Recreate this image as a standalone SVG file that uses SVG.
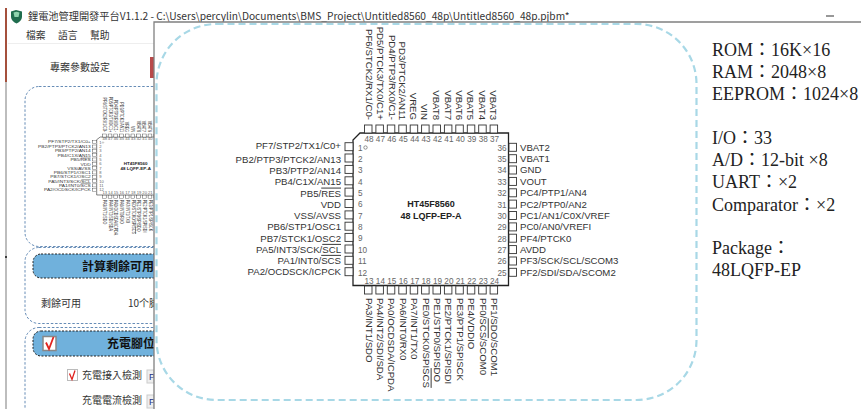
<svg xmlns="http://www.w3.org/2000/svg" xmlns:xlink="http://www.w3.org/1999/xlink" width="861" height="409" viewBox="0 0 861 409">
<style>
text{font-family:"Liberation Sans","Noto Sans CJK TC",sans-serif}
.ui{font-family:"Noto Sans CJK TC","Noto Sans CJK SC",sans-serif;fill:#333}
.ban{font-family:"Noto Sans CJK TC",sans-serif;font-weight:700;font-size:12px;fill:#111}
.lab{font-size:9.650px;fill:#333}
.l{text-anchor:end}
.num{font-size:8.200px;fill:#666}
.pin{fill:#fff;stroke:#333;stroke-width:.9}
.spec{font-family:"Liberation Serif","Noto Sans CJK TC",serif;font-size:18px;fill:#222}
.sec{fill:none;stroke:#3f6ea3;stroke-width:.8;stroke-dasharray:2.5 1.8}
.banner{fill:#70b1dc;stroke:#222;stroke-width:1;stroke-dasharray:2 1.5}
.ov{text-decoration:overline}
</style>
<defs>
<g id="chip">
<path d="M360 133H508.500V285.500H353V140Z" fill="#fff" stroke="#222" stroke-width="1.300"/>
<circle cx="365.500" cy="147.500" r="1.700" fill="none" stroke="#666" stroke-width=".7"/>
<g id="pins-left">
<rect class="pin" x="345" y="142.700" width="8" height="8"/><rect class="pin" x="345" y="154" width="8" height="8"/><rect class="pin" x="345" y="165.400" width="8" height="8"/><rect class="pin" x="345" y="176.800" width="8" height="8"/><rect class="pin" x="345" y="188.100" width="8" height="8"/><rect class="pin" x="345" y="199.500" width="8" height="8"/><rect class="pin" x="345" y="210.900" width="8" height="8"/><rect class="pin" x="345" y="222.200" width="8" height="8"/><rect class="pin" x="345" y="233.400" width="8" height="8"/><rect class="pin" x="345" y="245" width="8" height="8"/><rect class="pin" x="345" y="256.300" width="8" height="8"/><rect class="pin" x="345" y="267.700" width="8" height="8"/>
</g>
<g id="pins-right">
<rect class="pin" x="509" y="143.300" width="7.500" height="8"/><rect class="pin" x="509" y="154.700" width="7.500" height="8"/><rect class="pin" x="509" y="166" width="7.500" height="8"/><rect class="pin" x="509" y="177.400" width="7.500" height="8"/><rect class="pin" x="509" y="188.800" width="7.500" height="8"/><rect class="pin" x="509" y="200.100" width="7.500" height="8"/><rect class="pin" x="509" y="211.500" width="7.500" height="8"/><rect class="pin" x="509" y="222.900" width="7.500" height="8"/><rect class="pin" x="509" y="234.200" width="7.500" height="8"/><rect class="pin" x="509" y="245.600" width="7.500" height="8"/><rect class="pin" x="509" y="257" width="7.500" height="8"/><rect class="pin" x="509" y="268.300" width="7.500" height="8"/>
</g>
<g id="pins-top">
<rect class="pin" x="364.500" y="125" width="7.500" height="8"/><rect class="pin" x="375.900" y="125" width="7.500" height="8"/><rect class="pin" x="387.300" y="125" width="7.500" height="8"/><rect class="pin" x="398.800" y="125" width="7.500" height="8"/><rect class="pin" x="410.200" y="125" width="7.500" height="8"/><rect class="pin" x="421.600" y="125" width="7.500" height="8"/><rect class="pin" x="433" y="125" width="7.500" height="8"/><rect class="pin" x="444.400" y="125" width="7.500" height="8"/><rect class="pin" x="455.800" y="125" width="7.500" height="8"/><rect class="pin" x="467.300" y="125" width="7.500" height="8"/><rect class="pin" x="478.700" y="125" width="7.500" height="8"/><rect class="pin" x="490.100" y="125" width="7.500" height="8"/>
</g>
<g id="pins-bottom">
<rect class="pin" x="364.500" y="286" width="7.500" height="8"/><rect class="pin" x="375.900" y="286" width="7.500" height="8"/><rect class="pin" x="387.300" y="286" width="7.500" height="8"/><rect class="pin" x="398.800" y="286" width="7.500" height="8"/><rect class="pin" x="410.200" y="286" width="7.500" height="8"/><rect class="pin" x="421.600" y="286" width="7.500" height="8"/><rect class="pin" x="433" y="286" width="7.500" height="8"/><rect class="pin" x="444.400" y="286" width="7.500" height="8"/><rect class="pin" x="455.800" y="286" width="7.500" height="8"/><rect class="pin" x="467.300" y="286" width="7.500" height="8"/><rect class="pin" x="478.700" y="286" width="7.500" height="8"/><rect class="pin" x="490.100" y="286" width="7.500" height="8"/>
</g>
<g>
<text x="341" y="149.300" class="lab l">PF7/STP2/TX1/C0+</text>
<text x="341" y="162.600" class="lab l">PB2/PTP3/PTCK2/AN13</text>
<text x="341" y="173.600" class="lab l">PB3/PTP2/AN14</text>
<text x="341" y="184.900" class="lab l">PB4/C1X/AN15</text>
<text x="341" y="196.600" class="lab l">PB5/<tspan class="ov">RES</tspan></text>
<text x="341" y="208.300" class="lab l">VDD</text>
<text x="341" y="219.100" class="lab l">VSS/AVSS</text>
<text x="341" y="229.600" class="lab l">PB6/STP1/OSC1</text>
<text x="341" y="242" class="lab l">PB7/STCK1/OSC2</text>
<text x="341" y="252.900" class="lab l">PA5/INT3/SCK/<tspan class="ov">SCL</tspan></text>
<text x="341" y="263.900" class="lab l">PA1/INT0/<tspan class="ov">SCS</tspan></text>
<text x="341" y="275.200" class="lab l">PA2/OCDSCK/ICPCK</text>
</g>
<g>
<text x="520" y="150.600" class="lab">VBAT2</text>
<text x="520" y="162" class="lab">VBAT1</text>
<text x="520" y="173.400" class="lab">GND</text>
<text x="520" y="184.700" class="lab">VOUT</text>
<text x="520" y="196.100" class="lab">PC4/PTP1/AN4</text>
<text x="520" y="207.500" class="lab">PC2/PTP0/AN2</text>
<text x="520" y="218.800" class="lab">PC1/AN1/C0X/VREF</text>
<text x="520" y="230.200" class="lab">PC0/AN0/VREFI</text>
<text x="520" y="241.600" class="lab">PF4/PTCK0</text>
<text x="520" y="252.900" class="lab">AVDD</text>
<text x="520" y="264.300" class="lab">PF3/SCK/SCL/SCOM3</text>
<text x="520" y="275.700" class="lab">PF2/SDI/SDA/SCOM2</text>
</g>
<g>
<text transform="translate(365.700,120) rotate(90)" class="lab l">PF6/STCK2/RX1/C0-</text>
<text transform="translate(377.100,120) rotate(90)" class="lab l">PD5/PTCK3/TX0/C1+</text>
<text transform="translate(388.500,120) rotate(90)" class="lab l">PD4/PTP3/RX0/C1-</text>
<text transform="translate(399.100,120) rotate(90)" class="lab l">PD3/PTCK2/AN11</text>
<text transform="translate(410.400,120) rotate(90)" class="lab l">VREG</text>
<text transform="translate(421.400,120) rotate(90)" class="lab l">VIN</text>
<text transform="translate(433.100,120) rotate(90)" class="lab l">VBAT8</text>
<text transform="translate(444.500,120) rotate(90)" class="lab l">VBAT7</text>
<text transform="translate(456,120) rotate(90)" class="lab l">VBAT6</text>
<text transform="translate(467.400,120) rotate(90)" class="lab l">VBAT5</text>
<text transform="translate(478.800,120) rotate(90)" class="lab l">VBAT4</text>
<text transform="translate(490.300,120) rotate(90)" class="lab l">VBAT3</text>
</g>
<g>
<text transform="translate(365.500,298) rotate(90)" class="lab">PA3/INT1/SDO</text>
<text transform="translate(376.900,298) rotate(90)" class="lab">PA4/INT2/SDI/SDA</text>
<text transform="translate(388.300,298) rotate(90)" class="lab">PA0/OCDSDA/ICPDA</text>
<text transform="translate(399.700,298) rotate(90)" class="lab">PA6/INT0/RX0</text>
<text transform="translate(411.100,298) rotate(90)" class="lab">PA7/INT1/TX0</text>
<text transform="translate(422.600,298) rotate(90)" class="lab">PE0/STCK0/SPI<tspan class="ov">SCS</tspan></text>
<text transform="translate(434,298) rotate(90)" class="lab">PE1/STP0/SPISDO</text>
<text transform="translate(445.400,298) rotate(90)" class="lab">PE2/PTCK1/SPISDI</text>
<text transform="translate(456.800,298) rotate(90)" class="lab">PE3/PTP1/SPISCK</text>
<text transform="translate(468.200,298) rotate(90)" class="lab">PE4/VDDIO</text>
<text transform="translate(479.700,298) rotate(90)" class="lab">PF0/<tspan class="ov">SCS</tspan>/SCOM0</text>
<text transform="translate(491.100,298) rotate(90)" class="lab">PF1/SDO/SCOM1</text>
</g>
<g>
<text x="358" y="150.500" class="num">1</text><text x="358" y="161.800" class="num">2</text><text x="358" y="173.200" class="num">3</text><text x="358" y="184.600" class="num">4</text><text x="358" y="195.900" class="num">5</text><text x="358" y="207.300" class="num">6</text><text x="358" y="218.700" class="num">7</text><text x="358" y="230" class="num">8</text><text x="358" y="241.400" class="num">9</text><text x="358" y="252.800" class="num">10</text><text x="358" y="264.100" class="num">11</text><text x="358" y="275.500" class="num">12</text>
</g>
<g text-anchor="end">
<text x="506.500" y="150.600" class="num">36</text><text x="506.500" y="162" class="num">35</text><text x="506.500" y="173.400" class="num">34</text><text x="506.500" y="184.700" class="num">33</text><text x="506.500" y="196.100" class="num">32</text><text x="506.500" y="207.500" class="num">31</text><text x="506.500" y="218.800" class="num">30</text><text x="506.500" y="230.200" class="num">29</text><text x="506.500" y="241.600" class="num">28</text><text x="506.500" y="252.900" class="num">27</text><text x="506.500" y="264.300" class="num">26</text><text x="506.500" y="275.700" class="num">25</text>
</g>
<g text-anchor="middle">
<text x="369" y="142" class="num">48</text><text x="380.400" y="142" class="num">47</text><text x="391.800" y="142" class="num">46</text><text x="403.300" y="142" class="num">45</text><text x="414.700" y="142" class="num">44</text><text x="426.100" y="142" class="num">43</text><text x="437.500" y="142" class="num">42</text><text x="448.900" y="142" class="num">41</text><text x="460.300" y="142" class="num">40</text><text x="471.800" y="142" class="num">39</text><text x="483.200" y="142" class="num">38</text><text x="494.600" y="142" class="num">37</text>
<text x="369" y="284" class="num">13</text><text x="380.400" y="284" class="num">14</text><text x="391.800" y="284" class="num">15</text><text x="403.300" y="284" class="num">16</text><text x="414.700" y="284" class="num">17</text><text x="426.100" y="284" class="num">18</text><text x="437.500" y="284" class="num">19</text><text x="448.900" y="284" class="num">20</text><text x="460.300" y="284" class="num">21</text><text x="471.800" y="284" class="num">22</text><text x="483.200" y="284" class="num">23</text><text x="494.600" y="284" class="num">24</text>
<text x="431" y="207" font-size="9" font-weight="700" fill="#222">HT45F8560</text>
<text x="431" y="219" font-size="9" font-weight="700" fill="#222">48 LQFP-EP-A</text>
</g>
</g>
</defs>
<rect width="861" height="409" fill="#fff"/>
<g id="app-window">
<rect x="5" y="8" width="2" height="74" fill="#a5503c"/>
<rect x="5" y="82" width="2" height="327" fill="#bdbdbd"/>
<circle cx="6" cy="257" r="1" fill="#111"/>
<path d="M11 11.500 16 10 22 11.500V16.500C22 20 19 22.500 16.500 23.500 14 22.500 11 20 11 16.500Z" fill="#1f6d4e"/>
<path d="M13.500 12.500 16.500 11.800 19.500 12.500 18.500 17H14.500Z" fill="#8fd4ae"/>
<text x="28" y="19.500" class="ui" font-size="10.200">鋰電池管理開發平台V1.1.2 - C:\Users\percylin\Documents\BMS_Project\Untitled8560_48p\Untitled8560_48p.pjbm*</text>
<rect x="826" y="15.500" width="8" height="1" fill="#333"/>
<text x="26" y="39" class="ui" font-size="9.800">檔案</text>
<text x="58" y="39" class="ui" font-size="9.800">語言</text>
<text x="90" y="39" class="ui" font-size="9.800">幫助</text>
<rect x="8" y="43" width="146" height="1" fill="#eee"/>
<text x="50" y="71" class="ui" font-size="10">專案參數設定</text>
<rect x="150" y="57" width="4" height="21" fill="#b84a4a"/>
<rect class="sec" x="25" y="86.500" width="200" height="160" rx="14"/>
<use href="#chip" transform="translate(-79.800,86.500) scale(.5,.38)"/>
<rect class="sec" x="25" y="247.500" width="200" height="76" rx="14"/>
<rect class="banner" x="33" y="254" width="170" height="24" rx="8"/>
<text x="82" y="270.500" class="ban">計算剩餘可用</text>
<text x="41" y="307" class="ui" font-size="10">剩餘可用</text>
<text x="128" y="307" class="ui" font-size="10">10个脚</text>
<rect class="sec" x="25" y="327.500" width="200" height="110" rx="14"/>
<rect class="banner" x="33" y="331" width="170" height="25" rx="8"/>
<rect x="43" y="336.500" width="13" height="14" fill="#fff" stroke="#888" stroke-width="1.500"/>
<path d="M46 342.500 49 349 53.500 337" fill="none" stroke="#e0231f" stroke-width="1.800"/>
<text x="107" y="348" class="ban">充電腳位</text>
<rect x="67.500" y="369.500" width="10" height="11" fill="#fff" stroke="#bbb"/>
<path d="M69.500 373.500 72 379.500 75 370.500" fill="none" stroke="#e0231f" stroke-width="1.300"/>
<text x="82" y="379" class="ui" font-size="10">充電接入檢測</text>
<text x="82" y="404" class="ui" font-size="10">充電電流檢測</text>
<rect x="147" y="370" width="7" height="13" fill="#eee" stroke="#ccc"/>
<text x="149" y="380" font-size="9" fill="#223388">P</text>
<rect x="147" y="395" width="7" height="13" fill="#eee" stroke="#ccc"/>
<text x="149" y="405" font-size="9" fill="#223388">P</text>
</g>
<g id="panel">
<rect x="154" y="22" width="707" height="387" fill="#fff"/>
<path d="M154 409V22H861" fill="none" stroke="#808080" stroke-width="1.300"/>
<rect x="156.500" y="24" width="540" height="376" rx="60" fill="none" stroke="#a8d8e6" stroke-width="2.200" stroke-dasharray="7 4"/>
</g>
<g id="mcu"><use href="#chip"/></g>
<g id="spec">
<text x="712" y="56" class="spec">ROM：16K×16</text>
<text x="712" y="78" class="spec">RAM：2048×8</text>
<text x="712" y="100" class="spec">EEPROM：1024×8</text>
<text x="712" y="144" class="spec">I/O：33</text>
<text x="712" y="166" class="spec">A/D：12-bit ×8</text>
<text x="712" y="188" class="spec">UART：×2</text>
<text x="712" y="211" class="spec">Comparator：×2</text>
<text x="712" y="254" class="spec">Package：</text>
<text x="712" y="276" class="spec">48LQFP-EP</text>
</g>
</svg>
